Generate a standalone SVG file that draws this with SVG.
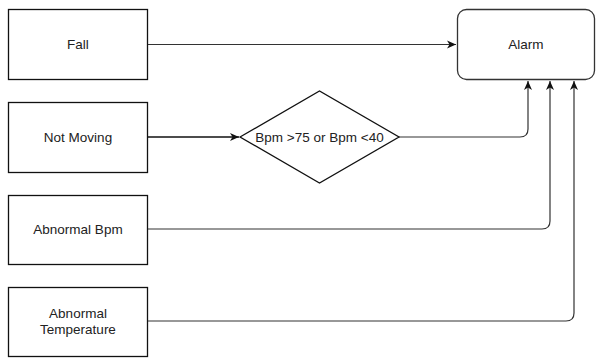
<svg xmlns="http://www.w3.org/2000/svg" width="596" height="361" viewBox="0 0 596 361">
  <defs>
    <marker id="arrow" markerWidth="10" markerHeight="10" refX="9" refY="5" orient="auto" markerUnits="userSpaceOnUse">
      <path d="M0,1 L9,5 L0,9 L2.5,5 Z" fill="#111"/>
    </marker>
  </defs>
  <style>
    .box { fill: #fff; stroke: #111; stroke-width: 1.3; }
    .label { font-family: "Liberation Sans", Arial, sans-serif; font-size: 13.5px; fill: #222; text-anchor: middle; dominant-baseline: central; }
    .edge { fill: none; stroke: #333; stroke-width: 1.2; marker-end: url(#arrow); }
  </style>
  <rect width="596" height="361" fill="#fff"/>

  <g id="fall">
    <rect class="box" x="8.5" y="9.5" width="139" height="70"/>
    <text class="label" x="78" y="44.5">Fall</text>
  </g>
  <g id="not-moving">
    <rect class="box" x="8.5" y="102.5" width="139" height="70"/>
    <text class="label" x="78" y="137">Not Moving</text>
  </g>
  <g id="abnormal-bpm">
    <rect class="box" x="8.5" y="195.5" width="139" height="69"/>
    <text class="label" x="78" y="229">Abnormal Bpm</text>
  </g>
  <g id="abnormal-temperature">
    <rect class="box" x="8.5" y="287.5" width="139" height="69"/>
    <text class="label" x="78" y="313">Abnormal</text>
    <text class="label" x="78" y="329">Temperature</text>
  </g>
  <g id="bpm-check">
    <polygon class="box" points="240,137 319.5,91 399,137 319.5,183"/>
    <text class="label" x="319.5" y="137">Bpm &gt;75 or Bpm &lt;40</text>
  </g>
  <g id="alarm">
    <rect class="box" x="457.5" y="9.5" width="137" height="70" rx="9" ry="9" style="stroke:#333"/>
    <text class="label" x="526" y="44.5">Alarm</text>
  </g>

  <g id="connectors">
    <path class="edge" d="M148,44.5 L456,44.5"/>
    <path class="edge" d="M148,137 L239,137" style="stroke:#111;stroke-width:1.5"/>
    <path class="edge" d="M399,137 L520,137 Q528,137 528,129 L528,81"/>
    <path class="edge" d="M148,229 L542,229 Q550,229 550,221 L550,81"/>
    <path class="edge" d="M148,321 L566,321 Q574,321 574,313 L574,81"/>
  </g>
</svg>
